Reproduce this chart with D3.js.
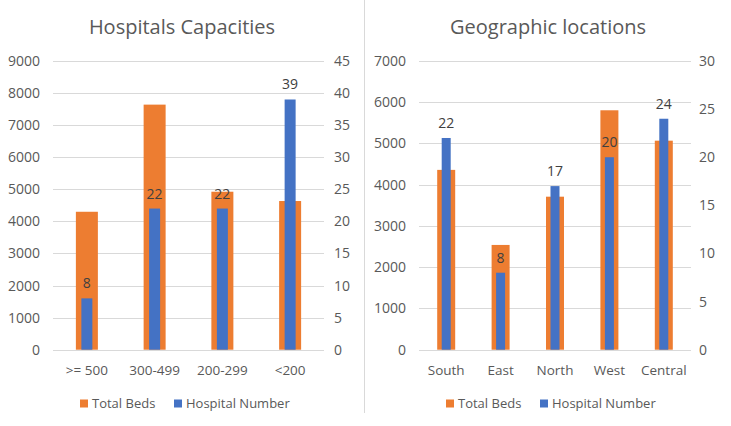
<!DOCTYPE html>
<html><head><meta charset="utf-8">
<script src="https://cdn.jsdelivr.net/npm/d3@7"></script>
<style>
html,body{margin:0;padding:0;background:#fff;}
svg{display:block;font-family:"Open Sans",sans-serif;}
</style></head>
<body>
<svg id="c" width="731" height="426"></svg>
<script>
// Chart 1: Hospitals Capacities
const capCategories = [">= 500", "300-499", "200-299", "<200"];
const capBeds = [4300, 7640, 4925, 4635];
const capHospitals = [8, 22, 22, 39];
const capLeftTicks = [0,1000,2000,3000,4000,5000,6000,7000,8000,9000];
const capRightTicks = [0,5,10,15,20,25,30,35,40,45];

// Chart 2: Geographic locations
const geoCategories = ["South", "East", "North", "West", "Central"];
const geoBeds = [4360, 2540, 3710, 5805, 5068];
const geoHospitals = [22, 8, 17, 20, 24];
const geoLeftTicks = [0,1000,2000,3000,4000,5000,6000,7000];
const geoRightTicks = [0,5,10,15,20,25,30];

const legendLabels = ["Total Beds", "Hospital Number"];
const ORANGE = "#ED7D31", BLUE = "#4472C4", TEXT = "#595959", GRID = "#D9D9D9";

const svg = d3.select("#c");

function drawChart(opt) {
  const g = svg.append("g").attr("transform", `translate(${opt.ox},0)`);
  const x0 = opt.plotLeft, x1 = opt.plotRight, yTop = 61, yBot = 349.7;
  const x = d3.scaleBand().domain(opt.categories).range([x0, x1]);
  const yL = d3.scaleLinear().domain([0, d3.max(opt.leftTicks)]).range([yBot, yTop]);
  const yR = d3.scaleLinear().domain([0, d3.max(opt.rightTicks)]).range([yBot, yTop]);

  // title
  g.append("text").attr("x", opt.titleX).attr("y", 34)
    .attr("text-anchor", "middle").attr("fill", TEXT)
    .style("font-size", "20px").text(opt.title);

  // gridlines
  g.append("g").selectAll("line").data(opt.leftTicks).join("line")
    .attr("x1", x0).attr("x2", x1)
    .attr("y1", d => Math.round(yL(d)) + 0.5).attr("y2", d => Math.round(yL(d)) + 0.5)
    .attr("stroke", GRID).attr("stroke-width", 1);

  const fmt = d3.format("d");
  // left axis
  const la = g.append("g").attr("transform", `translate(${opt.leftLabelX},0)`)
    .call(d3.axisLeft(yL).tickValues(opt.leftTicks).tickFormat(fmt).tickSize(0).tickPadding(0));
  la.select(".domain").remove();
  la.selectAll("text").attr("fill", TEXT).style("font-size", "14px").style("font-family", '"Open Sans",sans-serif');

  // right axis
  const ra = g.append("g").attr("transform", `translate(${opt.rightLabelX},0)`)
    .call(d3.axisRight(yR).tickValues(opt.rightTicks).tickFormat(fmt).tickSize(0).tickPadding(0));
  ra.select(".domain").remove();
  ra.selectAll("text").attr("fill", TEXT).style("font-size", "14px").style("font-family", '"Open Sans",sans-serif');

  // orange bars
  const bw = x.bandwidth();
  g.append("g").selectAll("rect").data(opt.categories).join("rect")
    .attr("x", d => x(d) + bw / 2 - opt.wideW / 2)
    .attr("width", opt.wideW)
    .attr("y", (d, i) => yL(opt.beds[i]))
    .attr("height", (d, i) => yBot - yL(opt.beds[i]))
    .attr("fill", ORANGE);

  // blue bars
  g.append("g").selectAll("rect").data(opt.categories).join("rect")
    .attr("x", d => x(d) + bw / 2 - opt.narrowW / 2)
    .attr("width", opt.narrowW)
    .attr("y", (d, i) => yR(opt.hospitals[i]))
    .attr("height", (d, i) => yBot - yR(opt.hospitals[i]))
    .attr("fill", BLUE);

  // data labels
  g.append("g").selectAll("text").data(opt.categories).join("text")
    .attr("x", d => x(d) + bw / 2)
    .attr("y", (d, i) => yR(opt.hospitals[i]) - 10)
    .attr("text-anchor", "middle").attr("fill", "#404040")
    .style("font-size", "14px")
    .text((d, i) => opt.hospitals[i]);

  // x axis labels
  g.append("g").selectAll("text").data(opt.categories).join("text")
    .attr("x", d => x(d) + bw / 2).attr("y", 375)
    .attr("text-anchor", "middle").attr("fill", TEXT)
    .style("font-size", "13.5px").text(d => d);

  // legend
  const lg = g.append("g");
  const items = [{c: ORANGE, t: legendLabels[0], x: 80}, {c: BLUE, t: legendLabels[1], x: 174}];
  items.forEach(it => {
    lg.append("rect").attr("x", it.x).attr("y", 399.5).attr("width", 8).attr("height", 8).attr("fill", it.c);
    lg.append("text").attr("x", it.x + 12).attr("y", 408).attr("fill", TEXT)
      .style("font-size", "13px").text(it.t);
  });
}

// divider
svg.append("line").attr("x1", 364.5).attr("x2", 364.5).attr("y1", 0).attr("y2", 413)
  .attr("stroke", "#D9D9D9").attr("stroke-width", 1);

drawChart({ox: 0, title: "Hospitals Capacities", titleX: 182,
  categories: capCategories, beds: capBeds, hospitals: capHospitals,
  leftTicks: capLeftTicks, rightTicks: capRightTicks,
  plotLeft: 53, plotRight: 324, leftLabelX: 40, rightLabelX: 334,
  wideW: 22, narrowW: 11});

drawChart({ox: 366, title: "Geographic locations", titleX: 182,
  categories: geoCategories, beds: geoBeds, hospitals: geoHospitals,
  leftTicks: geoLeftTicks, rightTicks: geoRightTicks,
  plotLeft: 53, plotRight: 325, leftLabelX: 40, rightLabelX: 333,
  wideW: 18, narrowW: 9});
</script>
</body></html>
